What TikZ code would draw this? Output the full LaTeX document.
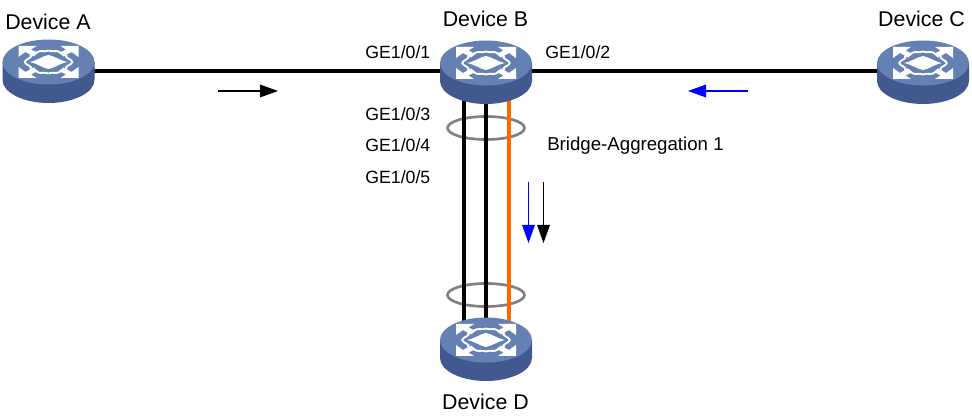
\documentclass[tikz,border=0pt]{standalone}
\usepackage{fontspec}
\setmainfont{Liberation Sans}
\usetikzlibrary{arrows.meta}
\definecolor{swtop}{RGB}{101,129,180}
\definecolor{swside}{RGB}{66,89,143}
\definecolor{ringgray}{RGB}{128,128,128}
\definecolor{lagorange}{RGB}{255,102,0}
\tikzset{
  x=0.75pt,y=-0.75pt,
  devlabel/.style={inner sep=0pt,font=\fontsize{16pt}{18pt}\selectfont,text=black},
  portlabel/.style={inner sep=0pt,anchor=west,font=\fontsize{13.3pt}{15pt}\selectfont,text=black},
  baglabel/.style={inner sep=0pt,anchor=west,font=\fontsize{14pt}{16pt}\selectfont,text=black},
  link/.style={line width=3pt,black},
  laglink/.style={line width=3pt,lagorange},
  ring/.style={draw=ringgray,line width=2pt},
  flow/.style={line width=0.9pt,-{Triangle[length=13.5pt,width=9.5pt]}},
  switchpic/.pic={
    \fill[swside] (-46,0) -- (-46,18) .. controls (-46,30.5) and (-25.4,41) .. (0,41) .. controls (25.4,41) and (46,30.5) .. (46,18) -- (46,0) -- cycle;
    \fill[swtop] (0,0) ellipse[x radius=46,y radius=22.5];
    \foreach \sx/\sy in {1/1,1/-1,-1/1,-1/-1}{
      \begin{scope}[xscale=\sx,yscale=\sy]
        \fill[white] (30,16) -- (12,16) -- (17.5,12.5) -- (10.5,9) -- (15,5.5) -- (23,10) -- (30,5) -- cycle;
        \draw[white,line width=1.4pt] (12,9.5) .. controls (8,12.5) and (5,9.5) .. (0,11.5);
        \draw[white,line width=1.4pt] (18,7) .. controls (15,4.5) and (23,3) .. (24,0);
      \end{scope}
    }
    \fill[white] (-19,0) .. controls (-11,-1.5) and (-6,-6) .. (0,-7) .. controls (6,-6) and (11,-1.5) .. (19,0) .. controls (11,1.5) and (6,6) .. (0,7) .. controls (-6,6) and (-11,1.5) .. cycle;
  }
}
\begin{document}
\begin{tikzpicture}
\useasboundingbox (0,0) rectangle (972,420);
\coordinate (A) at (48.5,62);
\coordinate (B) at (486,63);
\coordinate (C) at (923,63);
\coordinate (D) at (486,340);
\coordinate (Al) at (48.5,71);
\coordinate (Cl) at (923,71);
\coordinate (b1) at (464,85); \coordinate (d1) at (464,325);
\coordinate (b2) at (486,85); \coordinate (d2) at (486,325);
\coordinate (b3) at (509,85); \coordinate (d3) at (509,325);
\coordinate (r1) at (486,128);
\coordinate (r2) at (486,295);
\draw[ring] (r1) ellipse[x radius=38.5,y radius=11.5];
\draw[ring] (r2) ellipse[x radius=38.5,y radius=11.5];
\draw[link] (Al) -- (Cl);
\draw[link] (b1) -- (d1);
\draw[link] (b2) -- (d2);
\draw[laglink] (b3) -- (d3);
\pic at (A) {switchpic};
\pic at (B) {switchpic};
\pic at (C) {switchpic};
\pic at (D) {switchpic};
\node[devlabel] (la) at (48,22) {Device A};
\node[devlabel] (lb) at (485.5,19) {Device B};
\node[devlabel] (lc) at (921.5,19) {Device C};
\node[devlabel] (ld) at (485.5,402) {Device D};
\node[portlabel] (p1) at (365,52) {GE1/0/1};
\node[portlabel] (p2) at (545,52) {GE1/0/2};
\node[portlabel] (p3) at (365,114) {GE1/0/3};
\node[portlabel] (p4) at (365,145) {GE1/0/4};
\node[portlabel] (p5) at (365,177) {GE1/0/5};
\node[baglabel] (pb) at (547,146) {Bridge-Aggregation 1};
\coordinate (f1s) at (218,91); \coordinate (f1e) at (278,91);
\coordinate (f2s) at (748,91); \coordinate (f2e) at (688,91);
\coordinate (f3s) at (528.5,182); \coordinate (f3e) at (528.5,243);
\coordinate (f4s) at (543.5,182); \coordinate (f4e) at (543.5,243);
\draw[flow,black] (f1s) -- (f1e);
\draw[flow,blue] (f2s) -- (f2e);
\draw[flow,blue] (f3s) -- (f3e);
\draw[flow,black] (f4s) -- (f4e);
\end{tikzpicture}
\end{document}
